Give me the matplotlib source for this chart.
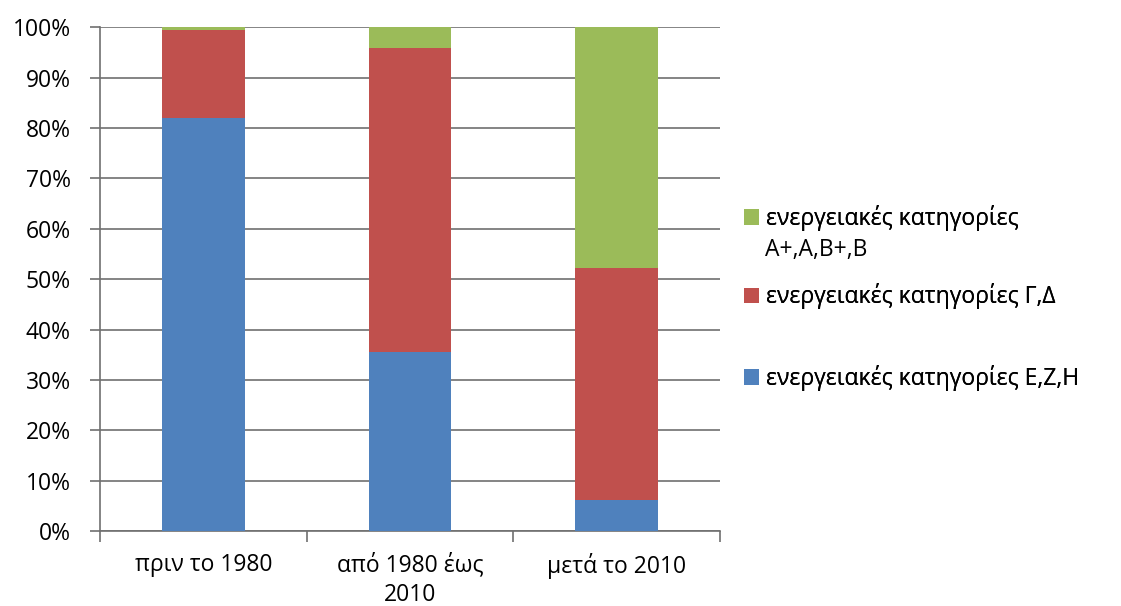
import numpy as np
import matplotlib.pyplot as plt
from matplotlib.ticker import PercentFormatter

plt.rcParams['font.family'] = ['Open Sans', 'DejaVu Sans']

# Κατηγορίες κτιρίων ανά περίοδο κατασκευής
periods = ['πριν το 1980', 'από 1980 έως\n2010', 'μετά το 2010']
ezh = [82.0, 35.5, 6.2]      # Ε,Ζ,Η
gd = [17.4, 60.5, 46.0]      # Γ,Δ
abb = [0.6, 4.0, 47.8]       # Α+,Α,Β+,Β

labels = ['ενεργειακές κατηγορίες Ε,Ζ,Η',
          'ενεργειακές κατηγορίες Γ,Δ',
          'ενεργειακές κατηγορίες']
extra_line = 'Α+,Α,Β+,Β'
colors = ['#4F81BD', '#C0504D', '#9BBB59']
fs = 16.5

fig = plt.figure(figsize=(11.21, 6.06), dpi=100)
ax = fig.add_axes([0.0892, 0.1238, 0.553, 0.831])

x = np.arange(len(periods))
bottom = np.zeros(len(periods))
bars = []
for vals, lab, col in zip([ezh, gd, abb], labels, colors):
    b = ax.bar(x, vals, width=0.4, bottom=bottom, color=col, label=lab, zorder=3)
    bars.append(b)
    bottom += np.array(vals)

ax.set_xlim(-0.5, 2.5)
ax.set_ylim(0, 100)
ax.set_yticks(np.arange(0, 101, 10))
ax.yaxis.set_major_formatter(PercentFormatter(decimals=0))
ax.yaxis.grid(True, color='#707070', linewidth=1.2, zorder=0)

ax.set_xticks(x)
ax.set_xticklabels(periods, fontsize=fs, linespacing=1.3)
ax.set_xticks([-0.5, 0.5, 1.5, 2.5], minor=True)
ax.tick_params(axis='x', which='major', length=0, pad=16)
ax.tick_params(axis='x', which='minor', length=8, color='#707070', width=1.2)
ax.tick_params(axis='y', length=7, color='#707070', width=1.2, labelsize=fs, pad=14)

for s in ['top', 'right']:
    ax.spines[s].set_visible(False)
for s in ['left', 'bottom']:
    ax.spines[s].set_color('#707070')
    ax.spines[s].set_linewidth(1.2)

# Υπόμνημα: κάθε σειρά σε δική της θέση
legend_y = [0.376, 0.511, 0.640]
for b, lab, y in zip(bars, labels, legend_y):
    leg = fig.legend([b], [lab], loc='center left', bbox_to_anchor=(0.664, y),
                     frameon=False, fontsize=fs, handlelength=0.65,
                     handleheight=0.65, handletextpad=0.3,
                     borderpad=0, borderaxespad=0)
    fig.add_artist(leg)
fig.text(0.6825, 0.587, extra_line, fontsize=fs, va='center', ha='left')

fig.savefig('out.png', dpi=100)
